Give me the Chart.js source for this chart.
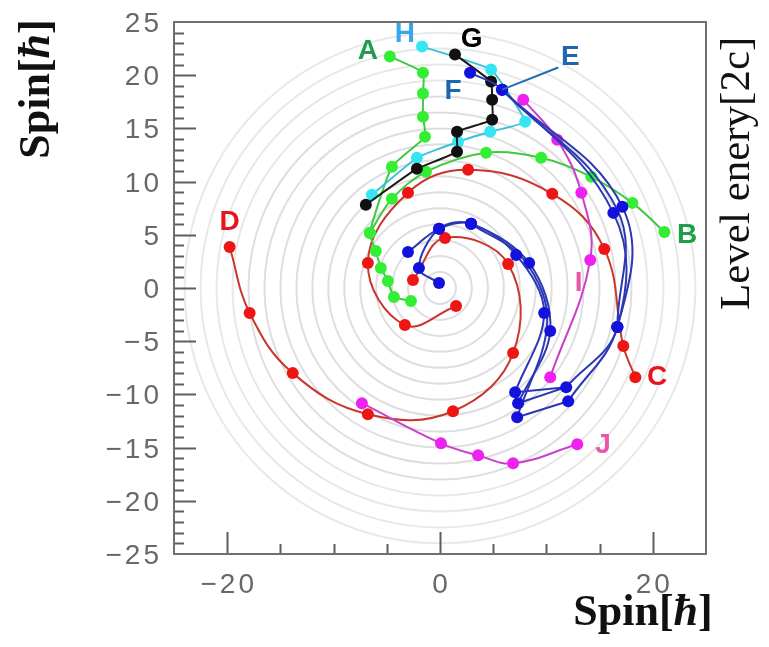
<!DOCTYPE html>
<html>
<head>
<meta charset="utf-8">
<script src="https://cdn.jsdelivr.net/npm/chart.js@4"></script>
<style>
body{margin:0;background:#fff;}
#wrap{width:769px;height:647px;}
</style>
</head>
<body>
<div id="wrap"><canvas id="myChart" width="769" height="647"></canvas></div>
<script>
// spin values, x and y in hbar
const aX = [-4.71,-1.60,-1.60,-1.60,-1.41,-4.52,-6.59,-6.03,-5.56,-4.90,-4.33,-2.73];
const aY = [21.75,20.24,18.27,16.10,14.22,11.39,5.18,3.48,1.88,0.66,-0.85,-1.22];
const bX = [21.09,18.08,14.22,9.51,4.33,-1.32,-4.52,-6.59];
const bY = [5.27,8.00,10.45,12.24,12.71,10.92,8.38,5.18];
const cX = [18.36,17.23,15.44,10.55,2.64,-3.01,-6.78,-3.30,1.51];
const cY = [-8.38,-5.46,3.67,8.85,11.11,8.95,2.35,-3.48,-1.69];
const dX = [-19.77,-17.89,-13.84,-6.78,1.22,6.87,6.40,0.47,-2.54];
const dY = [3.86,-2.35,-8.00,-11.86,-11.58,-6.12,2.26,4.71,0.75];
const gX = [1.41,4.80,4.90,4.90,1.60,1.60,-2.17,-6.97];
const gY = [21.94,19.40,17.70,15.82,14.69,12.81,11.21,7.82];
const hX = [-1.69,4.80,8.00,4.71,1.69,-2.17,-6.40];
const hY = [22.69,20.53,15.63,14.69,13.75,12.24,8.76];
const iX = [7.82,11.02,13.28,14.12,10.36];
const iY = [17.70,13.94,8.95,2.64,-8.38];
const jX = [-7.34,0.09,3.58,6.87,12.90];
const jY = [-10.83,-14.60,-15.73,-16.48,-14.69];
// blue band E/F: outer arcs, inner arcs, straight links
const e1X = [2.82,5.84,16.29,16.67,11.86];
const e1Y = [20.24,18.64,7.06,-3.67,-9.32];
const e2X = [5.84,17.14,16.67,12.05];
const e2Y = [18.64,7.63,-3.67,-10.64];
const e3X = [5.84,16.67,16.67];
const e3Y = [18.64,7.34,-3.67];
const f1X = [7.06,9.79,7.16,2.92,-0.09,-3.01];
const f1Y = [-9.79,-2.35,3.11,6.03,5.56,3.39];
const f2X = [7.34,10.36,8.38,2.92,-0.09,-1.98,-0.09];
const f2Y = [-10.83,-4.05,2.35,6.03,5.56,1.88,0.47];
const f3X = [7.25,10.08,7.82,2.92];
const f3Y = [-12.15,-3.20,2.73,6.03];
const linkX = [11.86,7.06,null,11.86,7.34,null,12.05,7.25];
const linkY = [-9.32,-9.79,null,-9.32,-10.83,null,-10.64,-12.15];
const pointerX = [5.84,11.11];
const pointerY = [18.64,20.72];

const xTickLabels = [-20, 0, 20];
const yTickLabels = [25, 20, 15, 10, 5, 0, -5, -10, -15, -20, -25];
const ringRadii = [1.5,3,4.5,6,7.5,9,10.5,12,13.5,15,16.5,18,19.5,21,22.5,24];

const labelText = ['A','B','C','D','E','F','G','H','I','J'];
const labelX = [-6.78,23.23,20.40,-19.77,12.24,1.22,2.98,-3.30,13.02,15.32];
const labelY = [22.22,4.99,-8.38,6.21,21.66,18.46,23.35,23.82,0.47,-14.78];
const labelColors = ['#1e9e4c','#1e9e4c','#e8141c','#e8141c','#1f66b0','#1f66b0','#000000','#3aa6e6','#ea55a8','#ea55a8'];

function pts(xs, ys) {
    return xs.map((v, i) => ({x: v, y: ys[i]}));
}

function curve(xs, ys, line, dot, tension, radius) {
    return {
        data: pts(xs, ys),
        showLine: true,
        borderColor: line,
        borderWidth: 2,
        backgroundColor: dot,
        pointBackgroundColor: dot,
        pointBorderWidth: 0,
        pointRadius: radius === undefined ? 6 : radius,
        tension: tension,
        spanGaps: false
    };
}

const blueLine = '#2b37b5', blueDot = '#1212dc';

const datasets = [
    curve(pointerX, pointerY, '#1f6fb4', '#1f6fb4', 0, 0),
    curve(e1X, e1Y, blueLine, blueDot, 0.4),
    curve(e2X, e2Y, blueLine, blueDot, 0.4),
    curve(e3X, e3Y, blueLine, blueDot, 0.4, [6,0,6]),
    curve(f1X, f1Y, blueLine, blueDot, 0.35),
    curve(f2X, f2Y, blueLine, blueDot, 0.35),
    curve(f3X, f3Y, blueLine, blueDot, 0.35, [6,0,0,6]),
    curve(linkX, linkY, blueLine, blueDot, 0, 0),
    curve(iX, iY, '#cc3fcc', '#ee22ee', 0.4),
    curve(jX, jY, '#cc3fcc', '#ee22ee', 0.4),
    curve(gX, gY, '#1a1a1a', '#111111', 0.1),
    curve(hX, hY, '#38c2da', '#35e6f2', 0.1),
    curve(aX, aY, '#3fc93f', '#33ee33', 0.15),
    curve(bX, bY, '#3fc93f', '#33ee33', 0.35),
    curve(cX, cY, '#c8372c', '#ee1515', 0.4),
    curve(dX, dY, '#c8372c', '#ee1515', 0.4)
];

function fmt(v) {
    return v < 0 ? '\u2212' + (-v) : String(v);
}

const rings = {
    id: 'rings',
    beforeDatasetsDraw(chart) {
        const {ctx, chartArea: a, scales: {x, y}} = chart;
        const cx = x.getPixelForValue(0), cy = y.getPixelForValue(0);
        ctx.save();
        ctx.beginPath();
        ctx.rect(a.left, a.top, a.right - a.left, a.bottom - a.top);
        ctx.clip();
        ctx.lineWidth = 2;
        ringRadii.forEach(r => {
            ctx.strokeStyle = r > 18 ? '#e8e8e8' : '#dedede';
            ctx.beginPath();
            ctx.arc(cx, cy, x.getPixelForValue(r) - cx, 0, Math.PI * 2);
            ctx.stroke();
        });
        ctx.restore();
    }
};

const frame = {
    id: 'frame',
    afterDatasetsDraw(chart) {
        const {ctx, chartArea: a, scales: {x, y}} = chart;
        ctx.save();
        ctx.strokeStyle = '#5e5e5e';
        ctx.lineWidth = 2;
        ctx.beginPath();
        for (let v = -24; v <= 24; v++) {
            const py = Math.round(y.getPixelForValue(v)) + 0.5;
            const len = v % 5 === 0 ? 22 : 10;
            ctx.moveTo(a.left, py);
            ctx.lineTo(a.left + len, py);
        }
        for (let v = -20; v <= 20; v += 5) {
            const px = Math.round(x.getPixelForValue(v)) + 0.5;
            const len = v % 20 === 0 ? 22 : 10;
            ctx.moveTo(px, a.bottom);
            ctx.lineTo(px, a.bottom - len);
        }
        ctx.stroke();
        ctx.strokeStyle = '#707070';
        ctx.strokeRect(a.left, a.top, a.right - a.left, a.bottom - a.top);

        // tick labels
        ctx.font = '28px "Liberation Sans", Arial, sans-serif';
        ctx.fillStyle = '#686868';
        ctx.letterSpacing = '3px';
        ctx.textBaseline = 'alphabetic';
        ctx.textAlign = 'right';
        yTickLabels.forEach(v => {
            ctx.fillText(fmt(v), a.left - 12, y.getPixelForValue(v) + 10);
        });
        ctx.textAlign = 'center';
        xTickLabels.forEach(v => {
            ctx.fillText(fmt(v), x.getPixelForValue(v) + 1.5, a.bottom + 39);
        });
        ctx.letterSpacing = '0px';

        ctx.font = 'bold 28px "Liberation Sans", Arial, sans-serif';
        ctx.textAlign = 'center';
        ctx.textBaseline = 'middle';
        labelText.forEach((t, i) => {
            ctx.fillStyle = labelColors[i];
            ctx.fillText(t, x.getPixelForValue(labelX[i]), y.getPixelForValue(labelY[i]));
        });
        ctx.restore();
    }
};

function spinText(ctx, size) {
    const parts = [['Spin[', 'bold '], ['\u0127', 'italic bold '], [']', 'bold ']];
    let w = 0;
    parts.forEach(p => {
        ctx.font = p[1] + size + 'px "Liberation Serif", serif';
        w += ctx.measureText(p[0]).width;
    });
    let px = -w / 2;
    ctx.textAlign = 'left';
    ctx.textBaseline = 'middle';
    parts.forEach(p => {
        ctx.font = p[1] + size + 'px "Liberation Serif", serif';
        ctx.fillText(p[0], px, 0);
        px += ctx.measureText(p[0]).width;
    });
}

const titles = {
    id: 'titles',
    afterDraw(chart) {
        const ctx = chart.ctx;
        ctx.save();
        ctx.fillStyle = '#111';
        ctx.translate(38, 89);
        ctx.rotate(-Math.PI / 2);
        spinText(ctx, 44);
        ctx.restore();

        ctx.save();
        ctx.fillStyle = '#111';
        ctx.translate(643, 614);
        spinText(ctx, 44);
        ctx.restore();

        ctx.save();
        ctx.fillStyle = '#111';
        ctx.translate(738, 310);
        ctx.rotate(-Math.PI / 2);
        ctx.font = '43px "Liberation Serif", serif';
        ctx.textAlign = 'left';
        ctx.textBaseline = 'middle';
        ctx.fillText('Level enery[2c]', 0, 0);
        ctx.restore();
    }
};

new Chart('myChart', {
    type: 'scatter',
    data: {datasets: datasets},
    options: {
        responsive: false,
        animation: false,
        layout: {padding: {left: 0, top: 22, right: 63, bottom: 0}},
        plugins: {legend: {display: false}, tooltip: {enabled: false}},
        scales: {
            x: {
                type: 'linear', min: -25, max: 25,
                grid: {display: false, drawTicks: false},
                border: {display: false},
                ticks: {display: false},
                afterFit: s => { s.height = 93; s.paddingLeft = 0; s.paddingRight = 0; }
            },
            y: {
                type: 'linear', min: -25, max: 25,
                grid: {display: false, drawTicks: false},
                border: {display: false},
                ticks: {display: false},
                afterFit: s => { s.width = 174; s.paddingTop = 0; s.paddingBottom = 0; }
            }
        }
    },
    plugins: [rings, frame, titles]
});
</script>
</body>
</html>
